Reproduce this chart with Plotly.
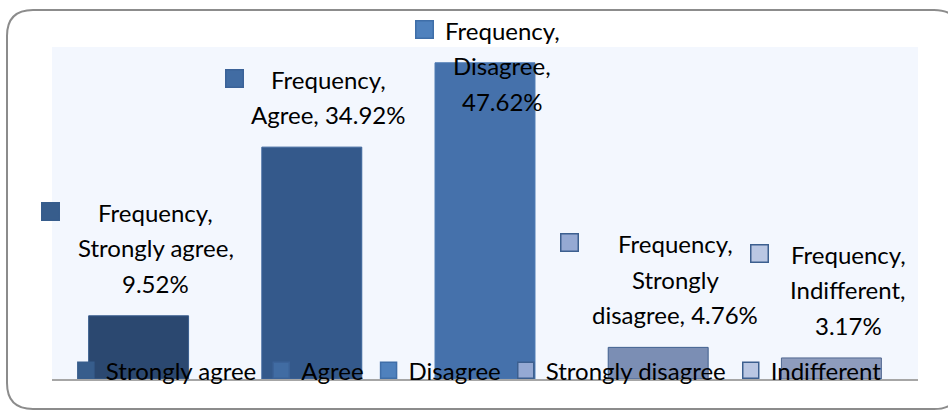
import textwrap
import plotly.graph_objects as go

# ---- data ----
series_name = "Frequency"
categories = ["Strongly agree", "Agree", "Disagree", "Strongly disagree", "Indifferent"]
values = [9.52, 34.92, 47.62, 4.76, 3.17]

# ---- styles ----
bar_colors = ["#2b4870", "#34598b", "#4571ab", "#7b8eb4", "#8e9cbd"]
bar_edges = ["#3a5e8e", "#3d659b", "#4a78b3", "#3f5f8e", "#50678f"]
key_colors = ["#375d8c", "#416ca3", "#4f81bd", "#95a9d3", "#bac7e3"]
key_borders = ["#375d8c", "#3b6298", "#3f6ea8", "#3c5f8f", "#3c5f8f"]
FONT = "Lato"
FS = 24
W_PX, H_PX = 948, 410
ML, MR, MT, MB = 52, 30, 47, 31
PLOT_W = W_PX - ML - MR
PLOT_H = H_PX - MT - MB
Y_MAX = 50
PPU = PLOT_H / Y_MAX
LINE_GAP = 35.5      # distance between label baselines
BASE_GAP = 23        # bar top -> last baseline
MIN_FIRST_BASE = 40  # screen y limit for first baseline
KEY = 16

fig = go.Figure()
for i, (cat, val) in enumerate(zip(categories, values)):
    fig.add_trace(go.Bar(
        x=[cat], y=[val], name=cat, width=0.577, showlegend=False,
        marker=dict(color=bar_colors[i], line=dict(color=bar_edges[i], width=1)),
        hoverinfo="skip",
    ))
# legend entries (square keys)
for i, cat in enumerate(categories):
    fig.add_trace(go.Scatter(
        x=[None], y=[None], name=cat, mode="markers",
        marker=dict(symbol="square", size=16, color=key_colors[i],
                    line=dict(color=key_borders[i], width=1.5)),
    ))

annotations = []
label_dx = 17
for i, (cat, val) in enumerate(zip(categories, values)):
    lines = textwrap.wrap(f"{series_name}, {cat}, {val:.2f}%", 15)
    n = len(lines)
    bar_top = MT + PLOT_H - val * PPU
    d = BASE_GAP
    first_base = bar_top - d - (n - 1) * LINE_GAP
    if first_base < MIN_FIRST_BASE:
        d -= (MIN_FIRST_BASE - first_base)
    for k, line in enumerate(lines):
        off = d + (n - 1 - k) * LINE_GAP  # baseline height above bar top
        annotations.append(dict(
            x=cat, y=val, xref="x", yref="y", text=line,
            showarrow=False, xanchor="center", yanchor="bottom", align="center",
            xshift=label_dx, yshift=off - 7,
            font=dict(family=FONT, size=FS, color="#000000"),
        ))
    widest = max(len(s) for s in lines) * 11.2
    kx0 = label_dx - widest / 2 - 31
    first_off = d + (n - 1) * LINE_GAP
    annotations.append(dict(
        x=cat, y=val, xref="x", yref="y", text=" ",
        showarrow=False, xanchor="left", yanchor="bottom",
        xshift=kx0, yshift=first_off + 1, width=KEY, height=KEY, borderpad=0,
        bgcolor=key_colors[i], bordercolor=key_borders[i], borderwidth=1.5,
        font=dict(size=4),
    ))

# outer rounded border (paper coords)
def px2paper_x(px):
    return (px - ML) / PLOT_W

def px2paper_y(py):
    return (MT + PLOT_H - py) / PLOT_H

bl, br, bt, bb, r = 7, 960, 10, 409, 26
path = (
    f"M {px2paper_x(bl + r)},{px2paper_y(bt)} "
    f"L {px2paper_x(br - r)},{px2paper_y(bt)} "
    f"Q {px2paper_x(br)},{px2paper_y(bt)} {px2paper_x(br)},{px2paper_y(bt + r)} "
    f"L {px2paper_x(br)},{px2paper_y(bb - r)} "
    f"Q {px2paper_x(br)},{px2paper_y(bb)} {px2paper_x(br - r)},{px2paper_y(bb)} "
    f"L {px2paper_x(bl + r)},{px2paper_y(bb)} "
    f"Q {px2paper_x(bl)},{px2paper_y(bb)} {px2paper_x(bl)},{px2paper_y(bb - r)} "
    f"L {px2paper_x(bl)},{px2paper_y(bt + r)} "
    f"Q {px2paper_x(bl)},{px2paper_y(bt)} {px2paper_x(bl + r)},{px2paper_y(bt)} Z"
)
shapes = [dict(type="path", xref="paper", yref="paper", path=path,
               line=dict(color="#8c8c8c", width=2), layer="below")]

fig.update_layout(
    width=W_PX, height=H_PX,
    margin=dict(l=ML, r=MR, t=MT, b=MB),
    paper_bgcolor="#ffffff", plot_bgcolor="#f3f7fe",
    barmode="overlay",
    showlegend=True,
    legend=dict(orientation="h", x=0.49, xanchor="center", y=0.025, yanchor="middle",
                bgcolor="rgba(0,0,0,0)", font=dict(family=FONT, size=FS, color="#000000"),
                itemclick=False, itemdoubleclick=False),
    xaxis=dict(showticklabels=False, ticks="", showgrid=False, zeroline=False,
               showline=True, linecolor="#a6a6a6", linewidth=2, range=[-0.5, 4.5]),
    yaxis=dict(range=[0, Y_MAX], showticklabels=False, ticks="", showgrid=False,
               zeroline=False, showline=False),
    annotations=annotations,
    shapes=shapes,
    font=dict(family=FONT),
)

fig.write_html("out.html", config={"displayModeBar": False},
               post_script="document.body.style.margin='0px';")
